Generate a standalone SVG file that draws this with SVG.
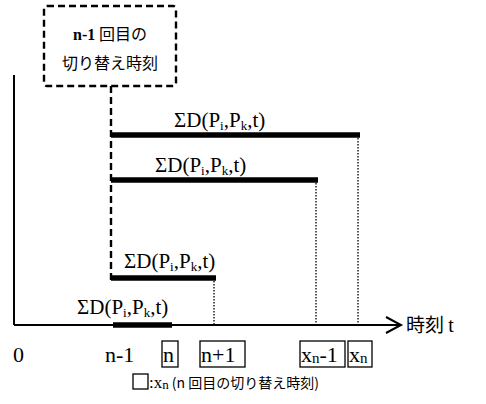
<svg xmlns="http://www.w3.org/2000/svg" width="486" height="404" viewBox="0 0 486 404">
<style>
.serif{font-family:"Liberation Serif","Noto Serif CJK JP","Noto Sans CJK JP",serif;fill:#000}
.jp{font-family:"Noto Sans CJK JP","Liberation Sans",sans-serif;fill:#000}
.lbl{font-family:"Liberation Serif",serif;font-size:21px;fill:#000}
.sub{font-size:13px}
.bar{stroke:#000;stroke-width:5.5;fill:none}
.dot{stroke:#000;stroke-width:1.3;stroke-dasharray:1.5 1.5;fill:none}
.dash{stroke:#000;stroke-width:2.4;stroke-dasharray:7 4;fill:none}
.axis{stroke:#000;stroke-width:2;fill:none}
.box{stroke:#000;stroke-width:1.3;fill:none}
</style>
<rect width="486" height="404" fill="#fff"/>
<g id="switch-label">
<rect class="dash" x="44" y="6" width="132" height="80" rx="3"/>
<text class="jp" x="110" y="40" font-size="16" text-anchor="middle"><tspan class="serif" font-weight="bold">n-1</tspan> 回目の</text>
<text class="jp" x="110" y="69" font-size="16" text-anchor="middle">切り替え時刻</text>
</g>
<g id="axes">
<line class="axis" x1="14" y1="75" x2="14" y2="325"/>
<line class="axis" x1="14" y1="325" x2="401" y2="325"/>
<polyline class="axis" points="386,317 401,325 386,333"/>
<text class="jp" x="406" y="332" font-size="19">時刻 <tspan class="serif" font-size="20">t</tspan></text>
</g>
<g id="connectors">
<line class="dash" x1="111" y1="86" x2="111" y2="280"/>
<line class="dot" x1="358" y1="138" x2="358" y2="325"/>
<line class="dot" x1="316" y1="183" x2="316" y2="325"/>
<line class="dot" x1="214" y1="281" x2="214" y2="325"/>
</g>
<g id="bar1">
<line class="bar" x1="111" y1="135" x2="360" y2="135"/>
<text class="lbl" x="174" y="127">ΣD(P<tspan class="sub" dy="3">i</tspan><tspan dy="-3">,P</tspan><tspan class="sub" dy="3">k</tspan><tspan dy="-3">,t)</tspan></text>
</g>
<g id="bar2">
<line class="bar" x1="111" y1="180" x2="318" y2="180"/>
<text class="lbl" x="155" y="172">ΣD(P<tspan class="sub" dy="3">i</tspan><tspan dy="-3">,P</tspan><tspan class="sub" dy="3">k</tspan><tspan dy="-3">,t)</tspan></text>
</g>
<g id="bar3">
<line class="bar" x1="111" y1="278" x2="216" y2="278"/>
<text class="lbl" x="124" y="268">ΣD(P<tspan class="sub" dy="3">i</tspan><tspan dy="-3">,P</tspan><tspan class="sub" dy="3">k</tspan><tspan dy="-3">,t)</tspan></text>
</g>
<g id="bar4">
<line class="bar" x1="113" y1="325" x2="172" y2="325"/>
<text class="lbl" x="77" y="314">ΣD(P<tspan class="sub" dy="3">i</tspan><tspan dy="-3">,P</tspan><tspan class="sub" dy="3">k</tspan><tspan dy="-3">,t)</tspan></text>
</g>
<g id="ticks">
<text class="serif" x="13" y="362" font-size="22">0</text>
<text class="serif" x="105" y="362" font-size="22">n-1</text>
<rect class="box" x="162" y="341" width="16" height="26"/>
<text class="serif" x="163" y="362" font-size="22">n</text>
<rect class="box" x="200" y="341" width="45" height="26"/>
<text class="serif" x="201" y="362" font-size="22">n+1</text>
<rect class="box" x="300" y="341" width="45" height="26"/>
<text class="serif" x="301" y="362" font-size="22">x<tspan font-size="15" dy="1">n</tspan><tspan dy="-1">-1</tspan></text>
<rect class="box" x="348" y="341" width="24" height="26"/>
<text class="serif" x="349" y="362" font-size="22">x<tspan font-size="15" dy="1">n</tspan></text>
</g>
<g id="legend">
<rect class="box" x="133" y="374" width="15" height="15"/>
<text class="serif" x="149" y="388" font-size="17">:x<tspan font-size="13" dy="1">n</tspan><tspan class="jp" dy="-1" font-size="14"> (n 回目の切り替え時刻)</tspan></text>
</g>
</svg>
